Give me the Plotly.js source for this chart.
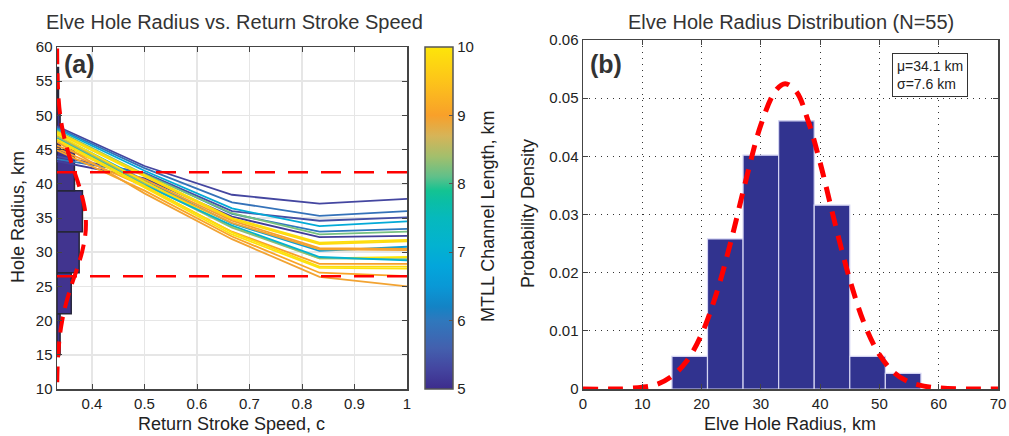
<!DOCTYPE html>
<html>
<head>
<meta charset="utf-8">
<script src="https://cdn.plot.ly/plotly-3.0.1.min.js"></script>
<style>html,body{margin:0;padding:0;background:#fff;}#chart{width:1009px;height:436px;}</style>
</head>
<body>
<div id="chart"></div>
<script>
// ---------------- DATA ----------------
// Panel (a): return stroke speed (fraction of c)
const speeds = [1/3, 1/2, 2/3, 5/6, 1];
// MTLL channel length (km) for each simulated line
const channelLengths = [5.3, 5.9, 5.4, 6.9, 6.0, 8.2, 5.2, 9.9, 9.85, 6.6,
                        9.0, 8.95, 10.0, 8.3, 7.1, 9.0, 9.9, 9.95, 9.05, 8.95];
// Hole radius (km) at each speed, one row per channel length
const holeRadius = [
  [48.4, 42.6, 38.4, 37.1, 37.8],
  [48.2, 42.3, 37.3, 35.3, 36.0],
  [44.0, 41.6, 36.0, 34.6, 35.1],
  [48.0, 41.9, 36.4, 33.8, 34.5],
  [43.6, 41.5, 35.6, 33.0, 33.4],
  [47.8, 41.4, 35.7, 32.6, 33.0],
  [43.3, 40.8, 35.2, 32.2, 32.4],
  [47.6, 41.3, 35.0, 31.4, 31.8],
  [47.4, 41.1, 34.8, 31.2, 31.6],
  [47.1, 40.5, 34.2, 30.2, 30.8],
  [45.6, 40.6, 34.6, 30.6, 30.5],
  [46.9, 40.2, 34.3, 30.4, 30.3],
  [47.2, 40.3, 33.8, 29.1, 29.3],
  [46.8, 40.0, 33.6, 29.1, 29.0],
  [46.6, 39.8, 33.9, 29.3, 28.8],
  [45.2, 39.6, 33.0, 28.3, 28.3],
  [46.5, 39.7, 32.9, 27.9, 27.9],
  [46.3, 39.4, 32.6, 27.7, 27.6],
  [44.9, 39.0, 32.3, 27.0, 26.5],
  [46.1, 38.6, 31.9, 26.4, 25.0]
];

// Panel (b): histogram of elve hole radius (N=55)
const binCenters = [18, 24, 30, 36, 42, 48, 54];
const binDensity = [0.0056, 0.0258, 0.0402, 0.0461, 0.0316, 0.0056, 0.0027];
const binWidth = 6;
const fitMean = 34.1;
const fitSigma = 7.6;
// Normal fit curve
const fitRadius = [0, 5, 10, 12.5, 15, 17.5, 20, 22.5, 25, 27.5, 30, 32.5, 34.1, 36, 38, 40, 42.5, 45, 47.5, 50, 52.5, 55, 57.5, 60, 65, 70];
const fitDensity = [0, 0, 0.0003, 0.0008, 0.0022, 0.0048, 0.0094, 0.0164, 0.0256, 0.0360, 0.0454, 0.0513, 0.0525, 0.0511, 0.0460, 0.0389, 0.0285, 0.0188, 0.0111, 0.0059, 0.0028, 0.0012, 0.0005, 0.0002, 0, 0];

const speedTicks = [0.4, 0.5, 0.6, 0.7, 0.8, 0.9, 1];
const speedTickText = ['0.4', '0.5', '0.6', '0.7', '0.8', '0.9', '1'];
const radiusTicks = [10, 15, 20, 25, 30, 35, 40, 45, 50, 55, 60];
const densTicks = [0, 0.01, 0.02, 0.03, 0.04, 0.05, 0.06];
const densTickText = ['0', '0.01', '0.02', '0.03', '0.04', '0.05', '0.06'];
const histRadiusTicks = [0, 10, 20, 30, 40, 50, 60, 70];
const lengthTicks = [5, 6, 7, 8, 9, 10];

// ---------------- STYLE ----------------
const FONT = '"Liberation Sans", Arial, Helvetica, sans-serif';
const W = 1009, H = 436;
const px = v => v / W;          // x pixel -> paper
const py = v => 1 - v / H;      // y pixel -> paper
const sideScale = 1.05;         // density -> speed units for the sideways histogram in (a)

const colorscale = [
  [0.00, '#3d2c8c'], [0.06, '#4446a0'], [0.12, '#4360ae'], [0.20, '#2f78bd'],
  [0.24, '#1483c5'], [0.30, '#0998d6'], [0.36, '#03a6db'], [0.42, '#03b2d0'],
  [0.50, '#06b9bd'], [0.55, '#0bbea4'], [0.58, '#14c392'], [0.62, '#5fc08a'],
  [0.68, '#a3bf6c'], [0.74, '#d6b458'], [0.80, '#f8a02a'], [0.90, '#fdc41a'],
  [1.00, '#fde50a']
];
const cmin = 5, cmax = 10;
function hexToRgb(h) { return [parseInt(h.substr(1,2),16), parseInt(h.substr(3,2),16), parseInt(h.substr(5,2),16)]; }
function colorAt(v) {
  const t = Math.max(0, Math.min(1, (v - cmin) / (cmax - cmin)));
  for (let i = 1; i < colorscale.length; i++) {
    if (t <= colorscale[i][0]) {
      const [t0, c0] = colorscale[i-1], [t1, c1] = colorscale[i];
      const f = (t - t0) / (t1 - t0);
      const a = hexToRgb(c0), b = hexToRgb(c1);
      return 'rgb(' + a.map((x, k) => Math.round(x + (b[k] - x) * f)).join(',') + ')';
    }
  }
  return colorscale[colorscale.length-1][1];
}

const traces = [];

// sideways histogram in (a)
traces.push({
  type: 'bar', orientation: 'h', xaxis: 'x', yaxis: 'y',
  y: binCenters, x: binDensity.map(d => d * sideScale), base: speeds[0],
  width: binWidth,
  marker: { color: '#41348f', line: { color: '#26263a', width: 1.5 } },
  hoverinfo: 'skip', showlegend: false
});

// model lines
holeRadius.forEach((row, i) => {
  traces.push({
    type: 'scatter', mode: 'lines', xaxis: 'x', yaxis: 'y',
    x: speeds, y: row,
    line: { color: colorAt(channelLengths[i]), width: 1.8 },
    hoverinfo: 'skip', showlegend: false
  });
});

// mean +/- sigma dashed lines
[fitMean + fitSigma, fitMean - fitSigma].forEach(v => {
  traces.push({
    type: 'scatter', mode: 'lines', xaxis: 'x', yaxis: 'y',
    x: [speeds[0], speeds[speeds.length-1]], y: [v, v],
    line: { color: '#ff0000', width: 2.5, dash: '20px,13px' },
    hoverinfo: 'skip', showlegend: false
  });
});

// sideways fit curve in (a)
traces.push({
  type: 'scatter', mode: 'lines', xaxis: 'x', yaxis: 'y',
  x: fitDensity.map(d => speeds[0] + d * sideScale), y: fitRadius,
  line: { color: '#ff0000', width: 4, dash: '16px,9px', shape: 'spline' },
  hoverinfo: 'skip', showlegend: false
});

// colorbar carrier
traces.push({
  type: 'scatter', mode: 'markers', xaxis: 'x', yaxis: 'y',
  x: [0.5, 0.5], y: [-100, -100],
  marker: {
    size: 1, color: [cmin, cmax], cmin: cmin, cmax: cmax, colorscale: colorscale, showscale: true,
    colorbar: {
      x: px(425), xanchor: 'left', xpad: 0, ypad: 0,
      y: py(389), yanchor: 'bottom', len: (389 - 47) / H, lenmode: 'fraction',
      thickness: 28, thicknessmode: 'pixels',
      outlinecolor: '#555', outlinewidth: 1.5,
      tickvals: lengthTicks, ticks: 'inside', ticklen: 4, tickcolor: '#555',
      tickfont: { family: FONT, size: 15, color: '#222' }
    }
  },
  hoverinfo: 'skip', showlegend: false
});

// histogram (b)
traces.push({
  type: 'bar', xaxis: 'x2', yaxis: 'y2',
  x: binCenters, y: binDensity, width: binWidth,
  marker: { color: '#31338f', line: { color: '#d4d4f2', width: 1.2 } },
  hoverinfo: 'skip', showlegend: false
});
traces.push({
  type: 'scatter', mode: 'lines', xaxis: 'x2', yaxis: 'y2',
  x: fitRadius, y: fitDensity,
  line: { color: '#ff0000', width: 5, dash: '15px,10px', shape: 'spline' },
  hoverinfo: 'skip', showlegend: false, cliponaxis: false
});

const axisCommon = {
  showline: true, linecolor: '#444', linewidth: 1.5, mirror: 'ticks',
  ticks: 'inside', ticklen: 5, tickcolor: '#444', tickwidth: 1,
  tickfont: { family: FONT, size: 15, color: '#222' },
  zeroline: false, fixedrange: true
};

const layout = {
  width: W, height: H,
  margin: { l: 0, r: 0, t: 0, b: 0 },
  paper_bgcolor: '#fff', plot_bgcolor: '#fff',
  showlegend: false, bargap: 0,
  font: { family: FONT, color: '#222' },
  xaxis: Object.assign({}, axisCommon, {
    domain: [px(57), px(407)], anchor: 'y', range: [1/3, 1],
    tickvals: speedTicks, ticktext: speedTickText,
    showgrid: true, gridcolor: '#e6e6e6', gridwidth: 1.5
  }),
  yaxis: Object.assign({}, axisCommon, {
    domain: [py(389), py(47)], anchor: 'x', range: [10, 60],
    tickvals: radiusTicks,
    showgrid: true, gridcolor: '#e6e6e6', gridwidth: 1.5
  }),
  xaxis2: Object.assign({}, axisCommon, {
    domain: [px(583), px(998)], anchor: 'y2', range: [0, 70],
    tickvals: histRadiusTicks,
    showgrid: true, gridcolor: '#333', gridwidth: 1, griddash: '1px,5px'
  }),
  yaxis2: Object.assign({}, axisCommon, {
    domain: [py(389), py(40)], anchor: 'x2', range: [0, 0.06],
    tickvals: densTicks, ticktext: densTickText,
    showgrid: true, gridcolor: '#333', gridwidth: 1, griddash: '1px,5px'
  }),
  annotations: [
    { text: 'Elve Hole Radius vs. Return Stroke Speed', xref: 'paper', yref: 'paper', x: px(234), y: py(22),
      xanchor: 'center', yanchor: 'middle', showarrow: false, font: { family: FONT, size: 20, color: '#333' } },
    { text: 'Elve Hole Radius Distribution (N=55)', xref: 'paper', yref: 'paper', x: px(791), y: py(22),
      xanchor: 'center', yanchor: 'middle', showarrow: false, font: { family: FONT, size: 20, color: '#333' } },
    { text: 'Return Stroke Speed, c', xref: 'paper', yref: 'paper', x: px(231), y: 0,
      xanchor: 'center', yanchor: 'bottom', showarrow: false, font: { family: FONT, size: 18, color: '#222' } },
    { text: 'Hole Radius, km', xref: 'paper', yref: 'paper', x: px(18), y: py(217), textangle: -90,
      xanchor: 'center', yanchor: 'middle', showarrow: false, font: { family: FONT, size: 18, color: '#222' } },
    { text: 'MTLL Channel Length, km', xref: 'paper', yref: 'paper', x: px(488), y: py(217), textangle: -90,
      xanchor: 'center', yanchor: 'middle', showarrow: false, font: { family: FONT, size: 18, color: '#222' } },
    { text: 'Elve Hole Radius, km', xref: 'paper', yref: 'paper', x: px(790), y: 0,
      xanchor: 'center', yanchor: 'bottom', showarrow: false, font: { family: FONT, size: 18, color: '#222' } },
    { text: 'Probability Density', xref: 'paper', yref: 'paper', x: px(528), y: py(214), textangle: -90,
      xanchor: 'center', yanchor: 'middle', showarrow: false, font: { family: FONT, size: 18, color: '#222' } },
    { text: '<b>(a)</b>', xref: 'paper', yref: 'paper', x: px(79), y: py(64),
      xanchor: 'center', yanchor: 'middle', showarrow: false, font: { family: FONT, size: 25, color: '#333' } },
    { text: '<b>(b)</b>', xref: 'paper', yref: 'paper', x: px(606), y: py(64),
      xanchor: 'center', yanchor: 'middle', showarrow: false, font: { family: FONT, size: 25, color: '#333' } },
    { text: 'μ=' + fitMean + ' km<br>σ=' + fitSigma + ' km', xref: 'paper', yref: 'paper', x: px(892), y: py(53),
      xanchor: 'left', yanchor: 'top', align: 'left', showarrow: false,
      bordercolor: '#333', borderwidth: 1, borderpad: 4, bgcolor: '#fff',
      font: { family: FONT, size: 14, color: '#222' } }
  ]
};

Plotly.newPlot('chart', traces, layout, { staticPlot: true, displayModeBar: false });
</script>
</body>
</html>
